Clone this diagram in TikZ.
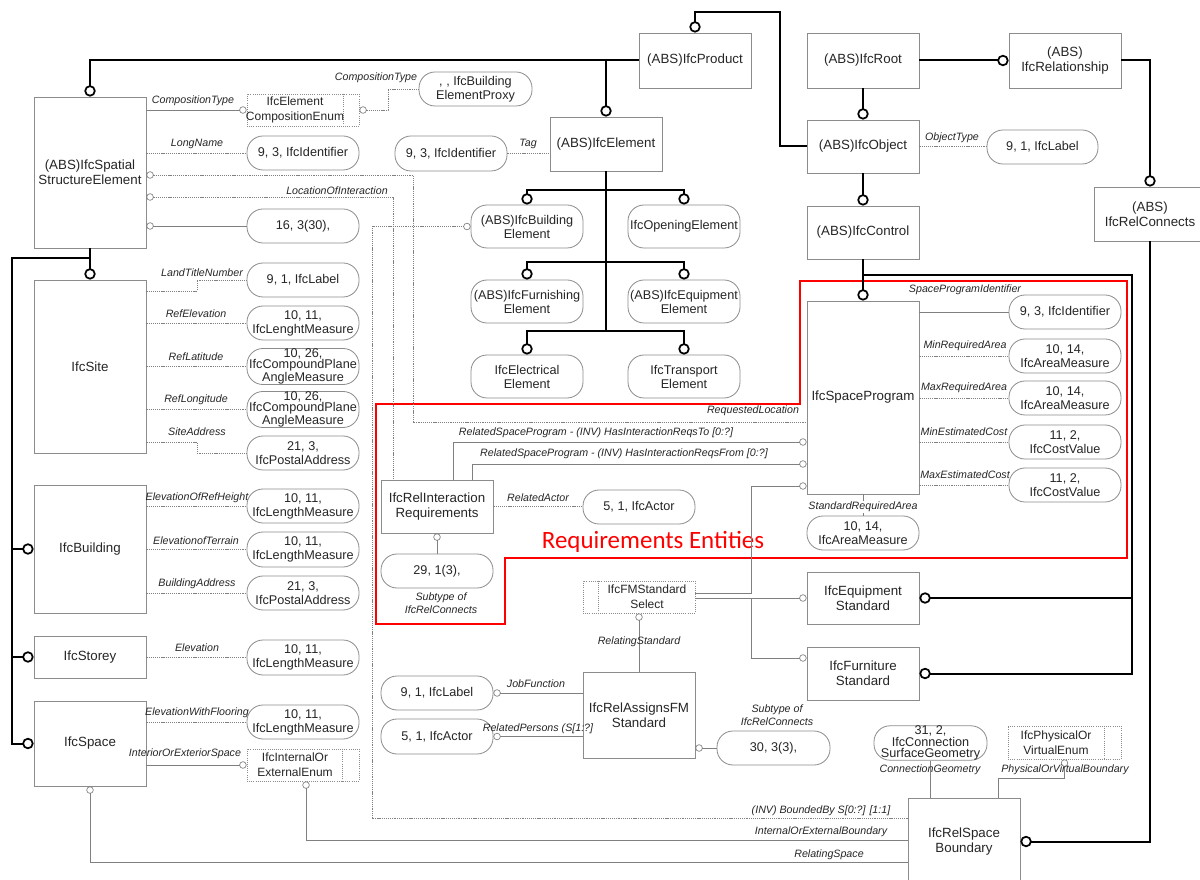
\documentclass[tikz,border=0pt]{standalone}
\usepackage{fontspec}
\setmainfont{Liberation Sans}
\newfontfamily\calloutfont{Carlito}
\usetikzlibrary{arrows.meta,calc}

\definecolor{edge}{HTML}{8C8C8C}
\definecolor{wire}{HTML}{808080}
\definecolor{ink}{HTML}{262626}

\tikzset{
  ent/.style={draw=edge, line width=0.6pt, fill=white, text=ink, align=center, inner sep=1pt,
    minimum width=84pt, minimum height=41.25pt, font=\fontsize{10}{11.5}\selectfont},
  sz/.style 2 args={minimum width=#1*0.75pt, minimum height=#2*0.75pt},
  val/.style={draw=edge, line width=0.6pt, fill=white, text=ink, align=center, inner sep=0pt,
    rounded corners=12pt, minimum width=84pt, minimum height=25.5pt, font=\fontsize{9.5}{10.5}\selectfont},
  valt/.style={val, font=\fontsize{9.5}{8.6}\selectfont},
  enm/.style={draw=edge, densely dotted, line width=0.6pt, fill=white, inner sep=0pt, minimum width=84pt, minimum height=24pt},
  enmtxt/.style={text=ink, align=center, inner sep=0pt, font=\fontsize{9}{11}\selectfont},
  inh/.style={line width=1.5pt, black},
  ci/.style={-{Circle[open,length=8.5pt,width=8.5pt,line width=1.3pt]}},
  attr/.style={wire, line width=0.5pt, dash pattern=on 0.9pt off 0.7pt},
  refl/.style={wire, line width=0.5pt},
  oc/.style={-{Circle[open,length=5.5pt,width=5.5pt,line width=0.5pt]}},
  co/.style={{Circle[open,length=5.5pt,width=5.5pt,line width=0.5pt]}-},
  lbl/.style={font=\fontsize{8}{9.5}\selectfont\itshape, text=ink, inner sep=0pt, align=center},
}

\begin{document}
\begin{tikzpicture}[x=0.75pt,y=-0.75pt]
\useasboundingbox (0,0) rectangle (1200,880);
\fill[white] (0,0) rectangle (1200,880);
\clip (0,0) rectangle (1200,880);

% requirements group outline
\draw[red, line width=2.2pt, line join=miter] (376,404) -- (800,404) -- (800,281) -- (1127,281)
  -- (1127,558) -- (505,558) -- (505,624) -- (376,624) -- cycle;
\node[text=red, font=\calloutfont\fontsize{18.7}{20}\selectfont, inner sep=0pt] (reqtitle) at (653,542) {Requirements Entities};

% ---------- entities ----------
\node[ent, sz={112}{151}] (sse) at (90,172.5) {(ABS)IfcSpatial\\StructureElement};
\node[ent, sz={112}{173}] (site) at (90,366.5) {IfcSite};
\node[ent, sz={112}{128}] (bldg) at (90,549) {IfcBuilding};
\node[ent, sz={112}{42}] (storey) at (90,657) {IfcStorey};
\node[ent, sz={112}{85}] (space) at (90,743.5) {IfcSpace};
\node[ent] (product) at (695,60.5) {(ABS)IfcProduct};
\node[ent, sz={112}{54}] (element) at (606,144) {(ABS)IfcElement};
\node[ent] (root) at (863,60.5) {(ABS)IfcRoot};
\node[ent] (relship) at (1065,60.5) {(ABS)\\IfcRelationship};
\node[ent, sz={112}{53}] (object) at (863,146.5) {(ABS)IfcObject};
\node[ent, sz={112}{53}] (control) at (863,232.5) {(ABS)IfcControl};
\node[ent, sz={112}{54}] (relconn) at (1150,214) {(ABS)\\IfcRelConnects};
\node[ent, sz={112}{193}] (spaceprog) at (863,397.5) {IfcSpaceProgram};
\node[ent, sz={112}{53}] (relinter) at (437,506.5) {IfcRelInteraction\\Requirements};
\node[ent, sz={112}{52}] (equipstd) at (863,598) {IfcEquipment\\Standard};
\node[ent, sz={112}{53}] (furnstd) at (863,673.5) {IfcFurniture\\Standard};
\node[ent, sz={112}{86}] (assignfm) at (639,715) {IfcRelAssignsFM\\Standard};
\node[ent, sz={112}{87}] (boundary) at (964,841.5) {IfcRelSpace\\Boundary};

% ---------- enumerations and select ----------
\node[enm, sz={112}{32}] (compenum) at (303,110) {};
\draw[edge, densely dotted, line width=0.6pt] ($(compenum.north east)+(-16,0)$) -- ($(compenum.south east)+(-16,0)$);
\node[enmtxt] (compenumT) at (295,110) {IfcElement\\CompositionEnum};

\node[enm, sz={112}{32}] (ioenum) at (303,765) {};
\draw[edge, densely dotted, line width=0.6pt] ($(ioenum.north east)+(-17,0)$) -- ($(ioenum.south east)+(-17,0)$);
\node[enmtxt] (ioenumT) at (295,765) {IfcInternalOr\\ExternalEnum};

\node[enm, sz={113}{33}] (pvenum) at (1064.5,742.5) {};
\draw[edge, densely dotted, line width=0.6pt] ($(pvenum.north east)+(-17,0)$) -- ($(pvenum.south east)+(-17,0)$);
\node[enmtxt] (pvenumT) at (1056,742.5) {IfcPhysicalOr\\VirtualEnum};

\node[enm, sz={112}{32}] (fmsel) at (639,597) {};
\draw[edge, densely dotted, line width=0.6pt] ($(fmsel.north west)+(16,0)$) -- ($(fmsel.south west)+(16,0)$);
\node[enmtxt] (fmselT) at (647,597) {IfcFMStandard\\Select};

% ---------- value types ----------
\node[val, sz={113}{34}] (proxy) at (475.5,89) {, , IfcBuilding\\ElementProxy};
\node[val, sz={112}{34}] (sseid) at (303,153) {9, 3, IfcIdentifier};
\node[val, sz={112}{34}] (agg) at (303,226) {16, 3(30),};
\node[val, sz={112}{34}] (sitelbl) at (303,280) {9, 1, IfcLabel};
\node[val, sz={112}{34}] (refel) at (303,323) {10, 11,\\IfcLenghtMeasure};
\node[valt, sz={112}{35}] (reflat) at (303,366.5) {10, 26,\\IfcCompoundPlane\\AngleMeasure};
\node[valt, sz={112}{35}] (reflon) at (303,409.5) {10, 26,\\IfcCompoundPlane\\AngleMeasure};
\node[val, sz={112}{34}] (siteaddr) at (303,453) {21, 3,\\IfcPostalAddress};
\node[val, sz={112}{34}] (elref) at (303,506) {10, 11,\\IfcLengthMeasure};
\node[val, sz={112}{35}] (elter) at (303,549.5) {10, 11,\\IfcLengthMeasure};
\node[val, sz={112}{34}] (baddr) at (303,593) {21, 3,\\IfcPostalAddress};
\node[val, sz={112}{35}] (stel) at (303,657.5) {10, 11,\\IfcLengthMeasure};
\node[val, sz={112}{34}] (spel) at (303,722) {10, 11,\\IfcLengthMeasure};
\node[val, sz={112}{35}] (tagid) at (451,153.5) {9, 3, IfcIdentifier};
\node[val, sz={112}{43}] (belem) at (527,226.5) {(ABS)IfcBuilding\\Element};
\node[val, sz={112}{43}] (opening) at (684,226.5) {IfcOpeningElement};
\node[val, sz={112}{43}] (furnish) at (527,301.5) {(ABS)IfcFurnishing\\Element};
\node[val, sz={112}{43}] (equip) at (684,301.5) {(ABS)IfcEquipment\\Element};
\node[val, sz={112}{43}] (electric) at (527,376.5) {IfcElectrical\\Element};
\node[val, sz={112}{43}] (transport) at (684,376.5) {IfcTransport\\Element};
\node[val, sz={111}{34}] (objlbl) at (1042.5,147) {9, 1, IfcLabel};
\node[val, sz={112}{34}] (spid) at (1065,312) {9, 3, IfcIdentifier};
\node[val, sz={112}{34}] (minra) at (1065,356) {10, 14,\\IfcAreaMeasure};
\node[val, sz={112}{34}] (maxra) at (1065,398) {10, 14,\\IfcAreaMeasure};
\node[val, sz={112}{34}] (minec) at (1065,442) {11, 2,\\IfcCostValue};
\node[val, sz={112}{34}] (maxec) at (1065,485) {11, 2,\\IfcCostValue};
\node[val, sz={112}{34}] (stdra) at (863,533) {10, 14,\\IfcAreaMeasure};
\node[val, sz={112}{34}] (actorA) at (639,507) {5, 1, IfcActor};
\node[val, sz={112}{34}] (subA) at (437,571) {29, 1(3),};
\node[val, sz={112}{34}] (joblbl) at (437,693) {9, 1, IfcLabel};
\node[val, sz={112}{35}] (actorB) at (437,736.5) {5, 1, IfcActor};
\node[val, sz={113}{34}] (subB) at (773.5,748) {30, 3(3),};
\node[valt, sz={113}{34}] (surfgeo) at (930.5,743) {31, 2,\\IfcConnection\\SurfaceGeometry};

% ---------- inheritance tree ----------
\draw[inh, ci] (product.west) -| (sse.north);
\draw[inh, ci] (element.north |- product.west) -- (element.north);
\coordinate (objturn) at (780,12);
\draw[inh, ci] (object.west) -| (objturn) -| (product.north);
\draw[inh, ci] (root.south) -- (object.north);
\draw[inh, ci] (root.east) -- (relship.west);
\draw[inh, ci] (object.south) -- (control.north);
\draw[inh, ci] (relship.east) -| (relconn.north);
\draw[inh, ci] (control.south) -- (spaceprog.north);
\coordinate (ctrlbus) at (1132,275);
\draw[inh, ci] (control.south |- ctrlbus) -- (ctrlbus) |- (equipstd.east);
\draw[inh, ci] (ctrlbus) |- (furnstd.east);
\draw[inh, ci] (relconn.south) |- (boundary.east);
\draw[inh, ci] (sse.south) -- (site.north);
\coordinate (spine) at (12,258);
\draw[inh, ci] (sse.south |- spine) -- (spine) |- (bldg.west);
\draw[inh, ci] (spine) |- (storey.west);
\draw[inh, ci] (spine) |- (space.west);
\coordinate (elbA) at (606,190);
\coordinate (elbB) at (606,262);
\coordinate (elbC) at (606,331);
\draw[inh] (element.south) -- (elbC);
\draw[inh, ci] (elbA) -| (belem.north);
\draw[inh, ci] (elbA) -| (opening.north);
\draw[inh, ci] (elbB) -| (furnish.north);
\draw[inh, ci] (elbB) -| (equip.north);
\draw[inh, ci] (elbC) -| (electric.north);
\draw[inh, ci] (elbC) -| (transport.north);

% ---------- attributes: spatial structure ----------
\draw[refl, oc] (sse.east |- compenum.west) -- (compenum.west);
\node[lbl] (lCompA) at (193,101) {CompositionType};
\coordinate (ctturn) at (388,110);
\draw[attr, co] (compenum.east) -- (ctturn) |- (proxy.west);
\node[lbl] (lCompB) at (376,78) {CompositionType};
\draw[attr] (sse.east |- sseid.west) -- (sseid.west);
\node[lbl] (lLong) at (197,144) {LongName};
\draw[refl, co] (sse.east |- agg.west) -- (agg.west);

\coordinate (rlA) at (413,175);
\coordinate (rlB) at (413,422);
\draw[attr, co] (sse.east |- rlA) -- (rlA) -- (rlB) -- (spaceprog.west |- rlB);
\node[lbl] (lReqLoc) at (753,411) {RequestedLocation};

\coordinate (liA) at (393,197);
\draw[attr, co] (sse.east |- liA) -- (liA) -- (liA |- relinter.north);
\node[lbl] (lLocInt) at (337,191) {LocationOfInteraction};

\coordinate (bbA) at (372,818);
\coordinate (bbB) at (372,226.5);
\draw[attr, oc] (boundary.west |- bbA) -- (bbA) -- (bbB) -- (belem.west);
\node[lbl] (lBounded) at (821,811) {(INV) BoundedBy S[0:?] [1:1]};

% ---------- attributes: site, building, storey, space ----------
\coordinate (ltn) at (197,291);
\draw[attr] (site.east |- ltn) -- (ltn) |- (sitelbl.west);
\node[lbl] (lLand) at (202,273) {LandTitleNumber};
\draw[attr] (site.east |- refel.west) -- (refel.west);
\node[lbl] (lRefEl) at (196,314) {RefElevation};
\draw[attr] (site.east |- reflat.west) -- (reflat.west);
\node[lbl] (lRefLat) at (196,357) {RefLatitude};
\draw[attr] (site.east |- reflon.west) -- (reflon.west);
\node[lbl] (lRefLon) at (196,400) {RefLongitude};
\coordinate (sad) at (197,442);
\draw[attr] (site.east |- sad) -- (sad) |- (siteaddr.west);
\node[lbl] (lSiteAddr) at (197,432) {SiteAddress};

\draw[attr] (bldg.east |- elref.west) -- (elref.west);
\node[lbl] (lElRef) at (197,498) {ElevationOfRefHeight};
\draw[attr] (bldg.east |- elter.west) -- (elter.west);
\node[lbl] (lElTer) at (196,541) {ElevationofTerrain};
\draw[attr] (bldg.east |- baddr.west) -- (baddr.west);
\node[lbl] (lBAddr) at (197,584) {BuildingAddress};
\draw[attr] (storey.east |- stel.west) -- (stel.west);
\node[lbl] (lElev) at (197,648) {Elevation};
\draw[attr] (space.east |- spel.west) -- (spel.west);
\node[lbl] (lElFloor) at (197,713) {ElevationWithFlooring};
\draw[refl, oc] (space.east |- ioenum.west) -- (ioenum.west);
\node[lbl] (lIntExt) at (185,754) {InteriorOrExteriorSpace};

\coordinate (ieb) at (306,840);
\draw[refl, co] (ioenum.south -| ieb) -- (ieb) -- (boundary.west |- ieb);
\node[lbl] (lIntExtB) at (821,832) {InternalOrExternalBoundary};
\coordinate (rsp) at (90,862);
\draw[refl, co] (space.south) -- (rsp) -- (boundary.west |- rsp);
\node[lbl] (lRelSpace) at (829,855) {RelatingSpace};

% ---------- attributes: element, object ----------
\draw[attr] (tagid.east) -- (tagid.east -| element.west);
\node[lbl] (lTag) at (528,144) {Tag};
\draw[attr] (object.east) -- (object.east -| objlbl.west);
\node[lbl] (lObjType) at (952,138) {ObjectType};

% ---------- attributes: space program ----------
\draw[refl] (spaceprog.east |- spid.west) -- (spid.west);
\node[lbl] (lSpId) at (965,290) {SpaceProgramIdentifier};
\draw[attr] (spaceprog.east |- minra.west) -- (minra.west);
\node[lbl] (lMinRA) at (965,346) {MinRequiredArea};
\draw[attr] (spaceprog.east |- maxra.west) -- (maxra.west);
\node[lbl] (lMaxRA) at (964,388) {MaxRequiredArea};
\draw[attr] (spaceprog.east |- minec.west) -- (minec.west);
\node[lbl] (lMinEC) at (964,432) {MinEstimatedCost};
\draw[attr] (spaceprog.east |- maxec.west) -- (maxec.west);
\node[lbl] (lMaxEC) at (965,475) {MaxEstimatedCost};
\draw[refl] (spaceprog.south) -- (stdra.north);
\node[lbl, fill=white, inner sep=0.5pt] (lStdRA) at (863,507) {StandardRequiredArea};

% ---------- interaction requirements ----------
\draw[attr] (relinter.east) -- (relinter.east -| actorA.west);
\node[lbl] (lRelActor) at (538,498) {RelatedActor};
\draw[refl, co] (relinter.south) -- (subA.north);
\node[lbl] (lSubA) at (441,603) {Subtype of\\IfcRelConnects};
\coordinate (hiTo) at (453,442);
\draw[refl, oc] (hiTo |- relinter.north) -- (hiTo) -- (spaceprog.west |- hiTo);
\node[lbl] (lHiTo) at (596,433) {RelatedSpaceProgram - (INV) HasInteractionReqsTo [0:?]};
\coordinate (hiFrom) at (472,464);
\draw[refl, oc] (hiFrom |- relinter.north) -- (hiFrom) -- (spaceprog.west |- hiFrom);
\node[lbl] (lHiFrom) at (624,454) {RelatedSpaceProgram - (INV) HasInteractionReqsFrom [0:?]};

% ---------- FM standard select ----------
\coordinate (selA) at (751,593);
\coordinate (selB) at (751,486);
\coordinate (selC) at (751,658);
\draw[refl, oc] (fmsel.east |- selA) -- (selA) -- (selB) -- (spaceprog.west |- selB);
\draw[refl, oc] (fmsel.east |- equipstd.west) -- (equipstd.west);
\draw[refl, oc] (selA |- equipstd.west) -- (selC) -- (furnstd.west |- selC);
\draw[refl, co] (fmsel.south) -- (assignfm.north);
\node[lbl] (lRelStd) at (639,642) {RelatingStandard};
\draw[refl, co] (joblbl.east) -- (joblbl.east -| assignfm.west);
\node[lbl] (lJob) at (536,684) {JobFunction};
\draw[refl, co] (actorB.east) -- (actorB.east -| assignfm.west);
\node[lbl] (lPersons) at (538,729) {RelatedPersons (S[1:?]};
\draw[refl, co] (assignfm.east |- subB.west) -- (subB.west);
\node[lbl] (lSubB) at (777,715) {Subtype of\\IfcRelConnects};

% ---------- space boundary ----------
\draw[refl] (surfgeo.south) -- (surfgeo.south |- boundary.north);
\node[lbl] (lConnGeo) at (930,770) {ConnectionGeometry};
\coordinate (pvb) at (998,778);
\draw[refl, co] (pvenum.south) |- (pvb) -- (pvb |- boundary.north);
\node[lbl] (lPhysVirt) at (1065,770) {PhysicalOrVirtualBoundary};
\end{tikzpicture}
\end{document}
